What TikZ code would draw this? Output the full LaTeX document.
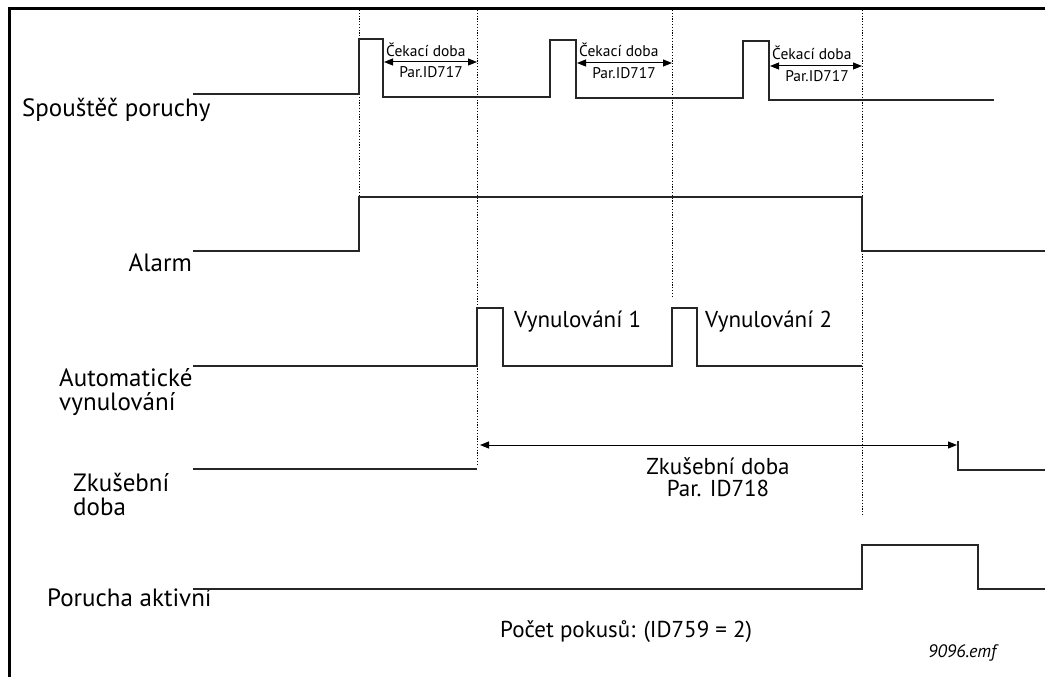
\documentclass[tikz,border=0pt]{standalone}
\usepackage{fontspec}
\setmainfont{PT Sans}
\usetikzlibrary{arrows.meta}
\begin{document}
\begin{tikzpicture}[x=1pt,y=-1pt,
  sig/.style={line width=1.3pt, black!85},
  gridline/.style={line width=0.9pt, dash pattern=on 1.2pt off 1.6pt},
  frame/.style={line width=3pt, line cap=rect},
  lbl/.style={font=\fontsize{25}{24}\selectfont, inner sep=0pt, anchor=west},
  mid/.style={font=\fontsize{23}{22}\selectfont, inner sep=0pt, anchor=west},
  small/.style={font=\fontsize{15.5}{16}\selectfont, inner sep=0pt},
  dim/.style={line width=1pt, {Triangle[length=9pt,width=7pt]}-{Triangle[length=9pt,width=7pt]}},
]
\useasboundingbox (0,0) rectangle (1045,677);

% frame (top and left edges)
\draw[frame] (9,8.5) -- (1045,8.5);
\draw[frame] (9,8.5) -- (9,677);

% dotted time markers
\draw[gridline] (359,10) -- (359,197);
\draw[gridline] (477,10) -- (477,466);
\draw[gridline] (672,10) -- (672,298);
\draw[gridline] (862,10) -- (862,516);

% signal labels
\node[lbl] (lTrig) at (22,110) {Spouštěč poruchy};
\node[lbl, anchor=east] (lAlarm) at (192,263) {Alarm};
\node[lbl, align=left] (lReset) at (59,392) {Automatické\\vynulování};
\node[lbl, align=left] (lTest) at (73,494) {Zkušební\\doba};
\node[lbl] (lFault) at (47,598) {Porucha aktivní};

% fault trigger
\draw[sig] (193,94) -- (359,94) -- (359,39) -- (383,39) -- (383,97) -- (550,97)
  -- (550,40) -- (576,40) -- (576,98) -- (743,98) -- (743,41) -- (769,41)
  -- (769,100) -- (994,100);

% waiting time dimensions
\coordinate (w1a) at (384,62); \coordinate (w1b) at (477,62);
\coordinate (w2a) at (577,63); \coordinate (w2b) at (672,63);
\coordinate (w3a) at (770,66); \coordinate (w3b) at (862,66);
\draw[dim] (w1a) -- (w1b);
\draw[dim] (w2a) -- (w2b);
\draw[dim] (w3a) -- (w3b);
\node[small, anchor=west] (t1a) at (386,50) {Čekací doba};
\node[small] (t1b) at (431,72) {Par.ID717};
\node[small, anchor=west] (t2a) at (579,50) {Čekací doba};
\node[small] (t2b) at (624,73) {Par.ID717};
\node[small, anchor=west] (t3a) at (772,53) {Čekací doba};
\node[small] (t3b) at (817,76) {Par.ID717};

% alarm
\draw[sig] (193,251) -- (359,251) -- (359,197) -- (862,197) -- (862,251) -- (1045,251);

% automatic reset
\draw[sig] (193,366) -- (477,366) -- (477,308) -- (503,308) -- (503,366) -- (672,366)
  -- (672,308) -- (697,308) -- (697,366) -- (862,366);
\node[mid] (v1) at (514,322) {Vynulování 1};
\node[mid] (v2) at (705,322) {Vynulování 2};

% trial time
\draw[sig] (193,469) -- (477,469);
\coordinate (ta) at (480,445);
\coordinate (tb) at (957,445);
\draw[dim] (ta) -- (tb);
\draw[sig] (958,441) -- (958,470) -- (1045,470);
\node[mid, anchor=center, align=center] (tt) at (718,477) {Zkušební doba\\Par. ID718};

% fault active
\draw[sig] (193,589) -- (862,589) -- (862,545) -- (978,545) -- (978,589) -- (1045,589);

% footer
\node[mid] (cnt) at (500,632) {Počet pokusů: (ID759 = 2)};
\node[font=\fontsize{18}{18}\selectfont\itshape, inner sep=0pt, anchor=west] (emf) at (928,653) {9096.emf};
\end{tikzpicture}
\end{document}
